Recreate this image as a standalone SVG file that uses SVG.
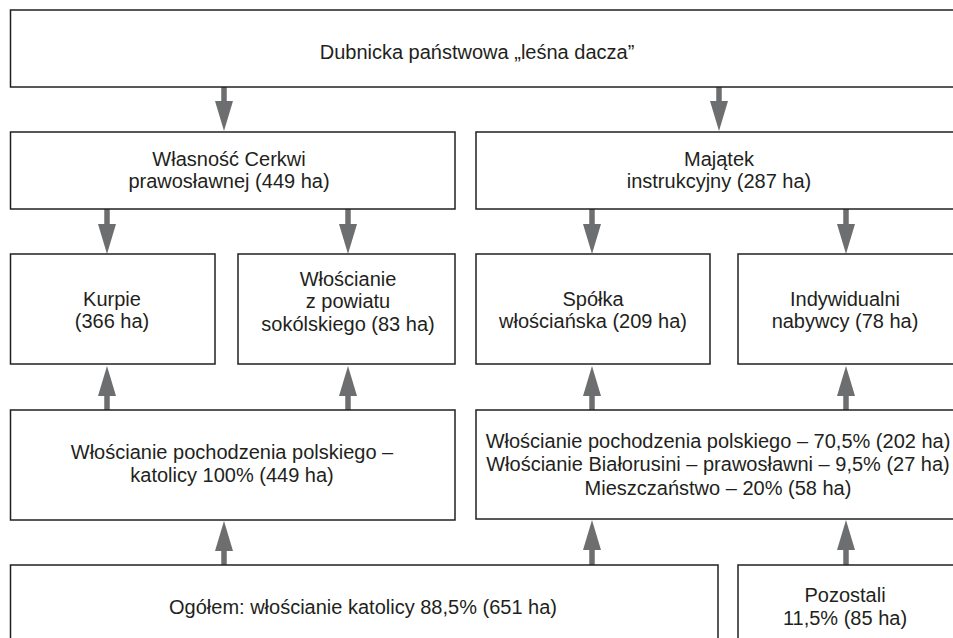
<svg xmlns="http://www.w3.org/2000/svg" width="953" height="638" viewBox="0 0 953 638">
<style>
.box{fill:#fff;stroke:#231f20;stroke-width:1.5}
.t{font-family:"Liberation Sans",Arial,sans-serif;font-size:20px;fill:#231f20;text-anchor:middle}
.c{stroke:#6d6e70;stroke-width:5.5;fill:none;marker-end:url(#ah)}
</style>
<defs>
<marker id="ah" viewBox="0 0 30 18" refX="0" refY="9" markerWidth="30" markerHeight="18" markerUnits="userSpaceOnUse" orient="auto">
<path d="M0,0 L30,9 L0,18 z" fill="#6d6e70"/>
</marker>
</defs>
<rect width="953" height="638" fill="#fff"/>
<g id="connectors">
<path class="c" d="M224,87 V101"/>
<path class="c" d="M719,87 V101"/>
<path class="c" d="M107,209 V224"/>
<path class="c" d="M348,209 V224"/>
<path class="c" d="M592,209 V224"/>
<path class="c" d="M846,209 V224"/>
<path class="c" d="M107,410 V396"/>
<path class="c" d="M348,410 V396"/>
<path class="c" d="M592,410 V396"/>
<path class="c" d="M846,410 V396"/>
<path class="c" d="M224,565 V551"/>
<path class="c" d="M592,565 V550"/>
<path class="c" d="M846,565 V550"/>
</g>
<g id="n1"><rect class="box" x="10.5" y="10" width="960" height="77"/><text class="t" x="477" y="59">Dubnicka państwowa „leśna dacza”</text></g>
<g id="n2"><rect class="box" x="10.5" y="132" width="444.5" height="77"/><text class="t" x="229" y="166">Własność Cerkwi</text><text class="t" x="229" y="188">prawosławnej (449 ha)</text></g>
<g id="n3"><rect class="box" x="476" y="132" width="490" height="77"/><text class="t" x="719" y="166">Majątek</text><text class="t" x="719" y="188">instrukcyjny (287 ha)</text></g>
<g id="n4"><rect class="box" x="10.5" y="254" width="204.5" height="110"/><text class="t" x="112" y="306">Kurpie</text><text class="t" x="112" y="328">(366 ha)</text></g>
<g id="n5"><rect class="box" x="238" y="254" width="217" height="110"/><text class="t" x="348" y="286">Włościanie</text><text class="t" x="348" y="308">z powiatu</text><text class="t" x="348" y="331">sokólskiego (83 ha)</text></g>
<g id="n6"><rect class="box" x="476" y="254" width="234" height="110"/><text class="t" x="593" y="306">Spółka</text><text class="t" x="593" y="328">włościańska (209 ha)</text></g>
<g id="n7"><rect class="box" x="738" y="254" width="230" height="110"/><text class="t" x="845" y="306">Indywidualni</text><text class="t" x="845" y="328">nabywcy (78 ha)</text></g>
<g id="n8"><rect class="box" x="10.5" y="410" width="444.5" height="110"/><text class="t" x="232" y="459">Włościanie pochodzenia polskiego –</text><text class="t" x="232" y="482">katolicy 100% (449 ha)</text></g>
<g id="n9"><rect class="box" x="476" y="410" width="490" height="109"/><text class="t" x="718" y="448">Włościanie pochodzenia polskiego – 70,5% (202 ha)</text><text class="t" x="718" y="471">Włościanie Białorusini – prawosławni – 9,5% (27 ha)</text><text class="t" x="718" y="495">Mieszczaństwo – 20% (58 ha)</text></g>
<g id="n10"><rect class="box" x="10.5" y="565" width="707.5" height="90"/><text class="t" x="363" y="614">Ogółem: włościanie katolicy 88,5% (651 ha)</text></g>
<g id="n11"><rect class="box" x="738" y="565" width="230" height="90"/><text class="t" x="845" y="602">Pozostali</text><text class="t" x="845" y="625">11,5% (85 ha)</text></g>
</svg>
